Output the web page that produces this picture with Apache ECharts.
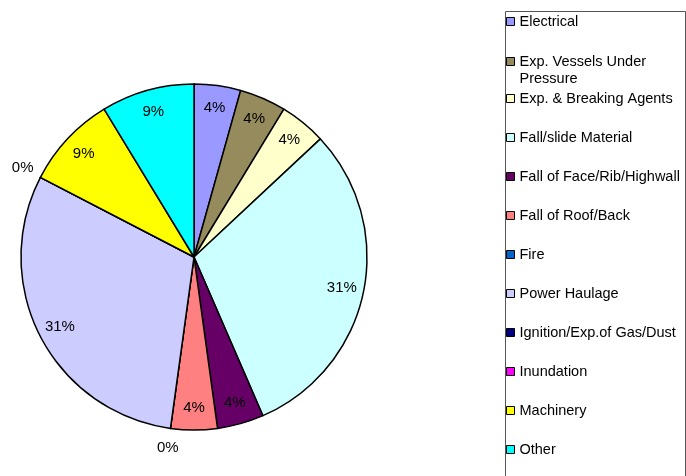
<!DOCTYPE html>
<html>
<head>
<meta charset="utf-8">
<script src="https://cdn.jsdelivr.net/npm/echarts@6/dist/echarts.min.js"></script>
<style>
html,body{margin:0;padding:0;background:#fff;}
#chart{width:686px;height:476px;}
</style>
</head>
<body>
<div id="chart"></div>
<script>
const categories = ['Electrical','Exp. Vessels Under Pressure','Exp. & Breaking Agents','Fall/slide Material','Fall of Face/Rib/Highwall','Fall of Roof/Back','Fire','Power Haulage','Ignition/Exp.of Gas/Dust','Inundation','Machinery','Other'];
const counts = [1, 1, 1, 7, 1, 1, 0, 7, 0, 0, 2, 2];
const pctLabels = ['4%','4%','4%','31%','4%','4%','0%','31%','0%','0%','9%','9%'];
const colors = ['#9999FF','#968B5C','#FFFFCC','#CCFFFF','#660066','#FF8080','#0066CC','#CCCCFF','#000080','#FF00FF','#FFFF00','#00FFFF'];

const data = categories.map((n, i) => ({ name: n, value: counts[i], itemStyle: { color: colors[i] } }));
const ghost = categories.map((n, i) => ({ name: n, value: counts[i] }));

const chart = echarts.init(document.getElementById('chart'));
const font = 'Arial, "Liberation Sans", sans-serif';
const legendCommon = {
  orient: 'vertical', left: 506, padding: 0, itemWidth: 8, itemHeight: 8, icon: 'rect',
  selectedMode: false,
  itemStyle: { borderColor: '#000', borderWidth: 1 },
  textStyle: { fontFamily: font, fontSize: 14.5, color: '#000', lineHeight: 17 }
};
chart.setOption({
  animation: false,
  color: colors,
  graphic: [{
    type: 'rect', left: 503, top: 9, silent: true,
    shape: { x: 0, y: 0, width: 180, height: 480 },
    style: { fill: 'none', stroke: '#555', lineWidth: 1 }
  }],
  legend: [
    Object.assign({}, legendCommon, { top: 13, data: [categories[0]] }),
    Object.assign({}, legendCommon, { top: 36, data: [categories[1]],
      formatter: () => '\nExp. Vessels Under\nPressure' }),
    Object.assign({}, legendCommon, { top: 90, itemGap: 22, data: categories.slice(2) })
  ],
  series: [
    {
      type: 'pie', center: [194, 257], radius: 173, startAngle: 90, clockwise: true,
      avoidLabelOverlap: false, label: { show: false }, labelLine: { show: false },
      itemStyle: { borderColor: '#000', borderWidth: 1.5 },
      emphasis: { disabled: true },
      data: data
    },
    {
      type: 'pie', center: [194, 257], radius: [123, 173], startAngle: 90, clockwise: true,
      silent: true, avoidLabelOverlap: false, legendHoverLink: false,
      itemStyle: { color: 'rgba(0,0,0,0)', borderWidth: 0 },
      label: { show: true, position: 'inside', fontFamily: font, fontSize: 15, color: '#000',
        formatter: p => counts[p.dataIndex] === 0 ? '' : pctLabels[p.dataIndex] },
      labelLine: { show: false },
      emphasis: { disabled: true },
      data: ghost
    },
    {
      type: 'pie', center: [194, 257], radius: [180, 200], startAngle: 90, clockwise: true,
      silent: true, avoidLabelOverlap: false, legendHoverLink: false,
      itemStyle: { color: 'rgba(0,0,0,0)', borderWidth: 0 },
      label: { show: true, position: 'inside', fontFamily: font, fontSize: 15, color: '#000',
        formatter: p => counts[p.dataIndex] === 0 ? pctLabels[p.dataIndex] : '' },
      labelLine: { show: false },
      emphasis: { disabled: true },
      data: ghost
    }
  ]
});
</script>
</body>
</html>
